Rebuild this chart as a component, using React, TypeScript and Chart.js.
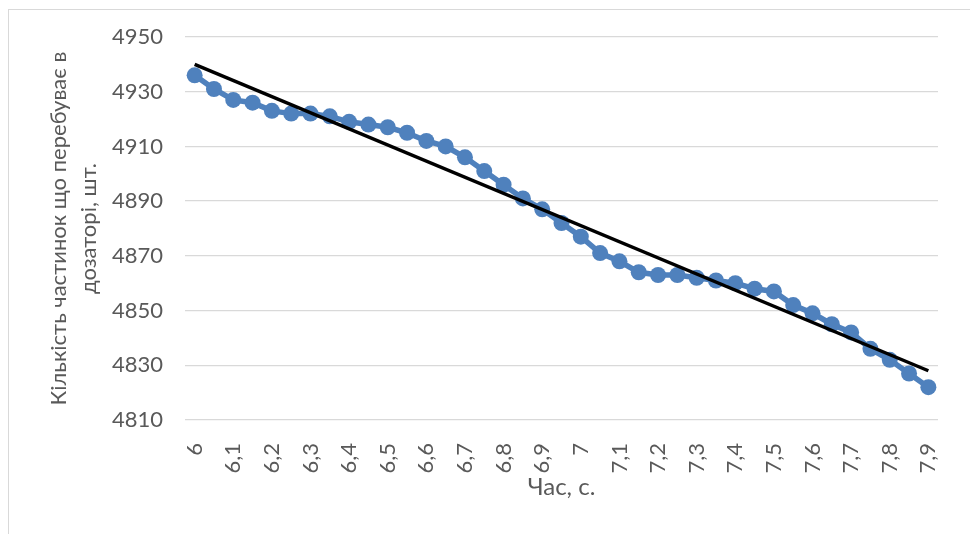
import { useEffect, useRef } from 'react';
import { Chart, registerables } from 'chart.js';

Chart.register(...registerables);

// Time, s (category axis, step 0.05; only every other label is shown)
const categories = [
  '6', '6,05', '6,1', '6,15', '6,2', '6,25', '6,3', '6,35', '6,4', '6,45',
  '6,5', '6,55', '6,6', '6,65', '6,7', '6,75', '6,8', '6,85', '6,9', '6,95',
  '7', '7,05', '7,1', '7,15', '7,2', '7,25', '7,3', '7,35', '7,4', '7,45',
  '7,5', '7,55', '7,6', '7,65', '7,7', '7,75', '7,8', '7,85', '7,9',
];

// Number of particles in the dispenser
const particles = [
  4936, 4931, 4927, 4926, 4923, 4922, 4922, 4921, 4919, 4918,
  4917, 4915, 4912, 4910, 4906, 4901, 4896, 4891, 4887, 4882,
  4877, 4871, 4868, 4864, 4863, 4863, 4862, 4861, 4860, 4858,
  4857, 4852, 4849, 4845, 4842, 4836, 4832, 4827, 4822,
];

// Linear trend line end values
const trendStart = 4940;
const trendEnd = 4828;

const yMin = 4810;
const yMax = 4950;
const yStep = 20;

const yTitle = ['Кількість частинок що перебуває в', 'дозаторі, шт.'];
const xTitle = 'Час, с.';

const FONT = 'Lato, "Open Sans", sans-serif';
const TEXT = '#595959';

export default function App() {
  const ref = useRef<HTMLCanvasElement>(null);

  useEffect(() => {
    const last = categories.length - 1;
    const trend = categories.map((_, i) => (i === 0 ? trendStart : i === last ? trendEnd : null));
    const chart = new Chart(ref.current!, {
      type: 'line',
      data: {
        labels: categories,
        datasets: [
          {
            data: trend,
            borderColor: '#000000',
            borderWidth: 3.5,
            pointRadius: 0,
            spanGaps: true,
            order: 0,
          },
          {
            data: particles,
            borderColor: '#4F81BD',
            backgroundColor: '#4F81BD',
            borderWidth: 5.5,
            pointRadius: 8,
            pointBorderWidth: 0,
            pointBackgroundColor: '#4F81BD',
            order: 1,
          },
        ],
      },
      options: {
        animation: false,
        responsive: false,
        maintainAspectRatio: false,
        layout: { padding: { left: 0, top: 37, right: 18, bottom: 0 } },
        plugins: { legend: { display: false }, tooltip: { enabled: false } },
        scales: {
          x: {
            type: 'category',
            offset: true,
            grid: { display: false },
            border: { display: false },
            ticks: {
              autoSkip: false,
              maxRotation: 90,
              minRotation: 90,
              padding: 15,
              color: TEXT,
              font: { family: FONT, size: 22 },
              callback: (_v: any, i: number) => (i % 2 === 0 ? categories[i] : ''),
            },
            title: {
              display: true,
              text: xTitle,
              color: TEXT,
              font: { family: FONT, size: 24, lineHeight: 1.2 },
              padding: { top: 0, bottom: 32 },
            },
            afterFit: (s: any) => {
              s.height = 114;
            },
          },
          y: {
            min: yMin,
            max: yMax,
            grid: { color: '#d9d9d9', lineWidth: 1.3, drawTicks: false },
            border: { display: false },
            ticks: {
              stepSize: yStep,
              padding: 22,
              color: TEXT,
              font: { family: FONT, size: 22 },
              callback: (v: any) => String(v),
            },
            title: {
              display: true,
              text: yTitle,
              color: TEXT,
              font: { family: FONT, size: 22, lineHeight: 1.36 },
              padding: { top: 44, bottom: 0 },
            },
            afterFit: (s: any) => {
              s.width = 185;
            },
          },
        },
      },
    });
    return () => chart.destroy();
  }, []);

  return (
    <div
      style={{
        position: 'fixed',
        left: 0,
        top: 0,
        width: 970,
        height: 534,
        overflow: 'hidden',
        background: '#ffffff',
      }}
    >
      <div
        style={{
          position: 'absolute',
          left: 8,
          top: 9,
          width: 1100,
          height: 1100,
          border: '1px solid #d9d9d9',
        }}
      />
      <canvas
        ref={ref}
        width={970}
        height={534}
        style={{ position: 'absolute', left: 0, top: 0, display: 'block' }}
      />
    </div>
  );
}
